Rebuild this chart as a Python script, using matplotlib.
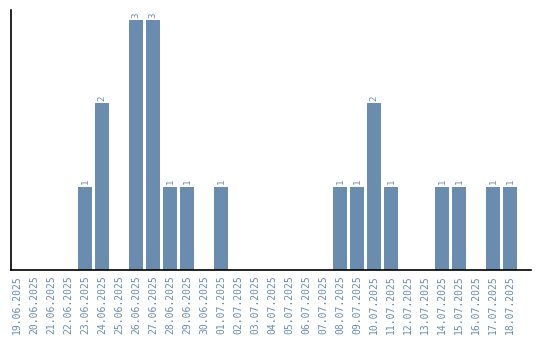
import matplotlib
matplotlib.use("Agg")
import matplotlib.pyplot as plt

dates = ["19.06.2025", "20.06.2025", "21.06.2025", "22.06.2025", "23.06.2025",
         "24.06.2025", "25.06.2025", "26.06.2025", "27.06.2025", "28.06.2025",
         "29.06.2025", "30.06.2025", "01.07.2025", "02.07.2025", "03.07.2025",
         "04.07.2025", "05.07.2025", "06.07.2025", "07.07.2025", "08.07.2025",
         "09.07.2025", "10.07.2025", "11.07.2025", "12.07.2025", "13.07.2025",
         "14.07.2025", "15.07.2025", "16.07.2025", "17.07.2025", "18.07.2025"]
counts = [0, 0, 0, 0, 1, 2, 0, 3, 3, 1, 1, 0, 1, 0, 0, 0, 0, 0, 0, 1,
          1, 2, 1, 0, 0, 1, 1, 0, 1, 1]

color = "#6a8caf"
fig = plt.figure(figsize=(5.4, 3.4), dpi=100)
ax = fig.add_axes([10.5/540, 1 - 270/340, 520.5/540, 260/340])
x = list(range(len(dates)))
ax.bar(x, counts, width=0.82, color=color)
for xi, c in zip(x, counts):
    if c > 0:
        ax.text(xi, c + 0.03, str(c), rotation=90, ha="center", va="bottom",
                fontsize=6.5, color=color, family="DejaVu Sans Mono")
ax.set_xlim(-0.38, 30.24)
ax.set_ylim(0, 3.12)
ax.set_xticks(x)
ax.set_xticklabels(dates, rotation=90, fontsize=7, color=color,
                   family="DejaVu Sans Mono")
ax.tick_params(axis="x", length=0, pad=4)
ax.set_yticks([])
ax.spines["top"].set_visible(False)
ax.spines["right"].set_visible(False)
ax.spines["left"].set_linewidth(1.2)
ax.spines["bottom"].set_linewidth(1.2)
fig.savefig("out.png", dpi=100)
